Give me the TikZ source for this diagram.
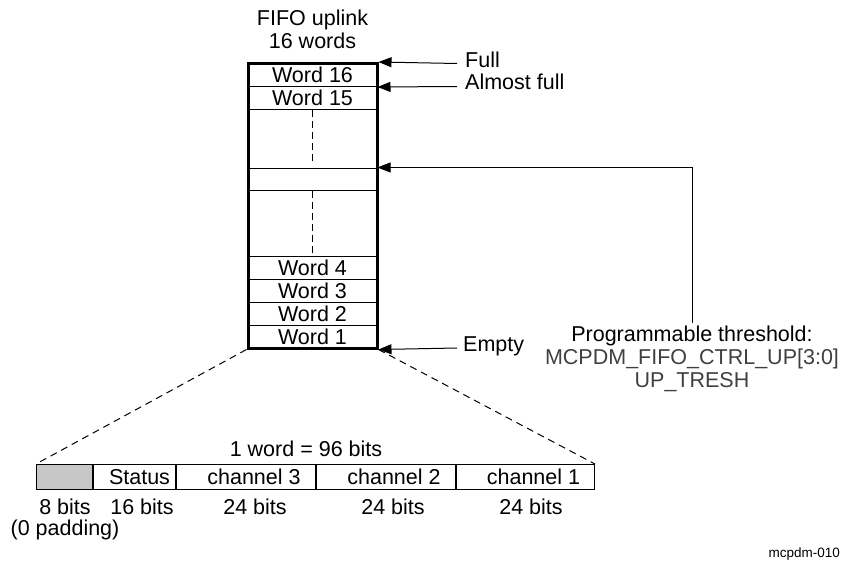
\documentclass[tikz,border=0pt]{standalone}
\usepackage{fontspec}
\setmainfont{Liberation Sans}
\usetikzlibrary{arrows.meta}
\definecolor{regcol}{HTML}{404040}
\tikzset{
  ptr/.style={line width=1pt,-{Triangle[length=13pt,width=10pt]}},
  wordrow/.style={draw,line width=1pt,minimum width=129pt,minimum height=23pt,inner sep=0pt},
  fifobox/.style={draw,line width=3pt,minimum width=129pt,minimum height=284.5pt,inner sep=0pt},
  field/.style={draw,line width=1pt,minimum height=25pt,inner sep=0pt,anchor=north west},
  midline/.style={line width=1pt,dash pattern=on 7pt off 4pt,shorten >=3pt},
  zoomline/.style={line width=1pt,dash pattern=on 7pt off 5pt},
  bitlbl/.style={anchor=base,inner sep=0pt},
}
\begin{document}
\begin{tikzpicture}[x=1pt,y=-1pt,font=\fontsize{21.5}{23}\selectfont]
  \useasboundingbox (0,0) rectangle (842,565);
  % FIFO
  \node[align=center,anchor=north,inner sep=0pt] (title) at (312.5,9.6) {FIFO uplink\\16 words};
  \node[wordrow] (w16) at (312.5,75) {Word 16};
  \node[wordrow] (w15) at (312.5,98) {Word 15};
  \node[wordrow,minimum height=22pt] (thr) at (312.5,179) {};
  \foreach \n [count=\i] in {4,3,2,1}
    \node[wordrow] (w\n) at (312.5,244.5+23*\i) {Word \n};
  \draw[midline] (w15.south) -- (thr.north);
  \draw[midline] (thr.south) -- (w4.north);
  \node[fifobox] (fifo) at (312.5,205.75) {};
  % flags
  \coordinate (fullsrc) at (457,63.5);
  \coordinate (afullsrc) at (457,86.5);
  \coordinate (emptysrc) at (457,348);
  \draw[ptr] (fullsrc) -- (fifo.north east);
  \draw[ptr] (afullsrc) -- (w16.south east);
  \draw[ptr] (emptysrc) -- (fifo.south east);
  \node[anchor=base west,inner sep=0pt] (full) at (465,67.7) {Full};
  \node[anchor=base west,inner sep=0pt] (afull) at (465,89) {Almost full};
  \node[anchor=base west,inner sep=0pt] (empty) at (463,351.5) {Empty};
  % threshold
  \node[anchor=north,align=center,inner sep=3pt] (thrtxt) at (692,322.5)
    {Programmable threshold:\\\textcolor{regcol}{MCPDM\_FIFO\_CTRL\_UP[3:0]}\\\textcolor{regcol}{UP\_TRESH}};
  \draw[ptr] (thrtxt.north) |- (thr.north east);
  % one word
  \node[bitlbl] (wordlen) at (306,456) {1 word = 96 bits};
  \node[field,fill=black!22,minimum width=56pt] (pad) at (36,464) {};
  \node[field,minimum width=82pt,label={[xshift=5pt]center:Status}] (status) at (pad.north east) {};
  \node[field,minimum width=139pt,label={[xshift=8pt]center:channel 3}] (ch3) at (status.north east) {};
  \node[field,minimum width=139pt,label={[xshift=8pt]center:channel 2}] (ch2) at (ch3.north east) {};
  \node[field,minimum width=138pt,label={[xshift=8pt]center:channel 1}] (ch1) at (ch2.north east) {};
  \draw[zoomline] (fifo.south west) -- (pad.north west);
  \draw[zoomline] (fifo.south east) -- (ch1.north east);
  \node[bitlbl] at (65,514) {8 bits};
  \node[bitlbl] at (142,514) {16 bits};
  \node[bitlbl] at (255,514) {24 bits};
  \node[bitlbl] at (393,514) {24 bits};
  \node[bitlbl] at (531,514) {24 bits};
  \node[bitlbl] at (65,535) {(0 padding)};
  \node[anchor=base east,inner sep=0pt,font=\fontsize{13.5}{15}\selectfont] (figid) at (840,557) {mcpdm-010};
\end{tikzpicture}
\end{document}
